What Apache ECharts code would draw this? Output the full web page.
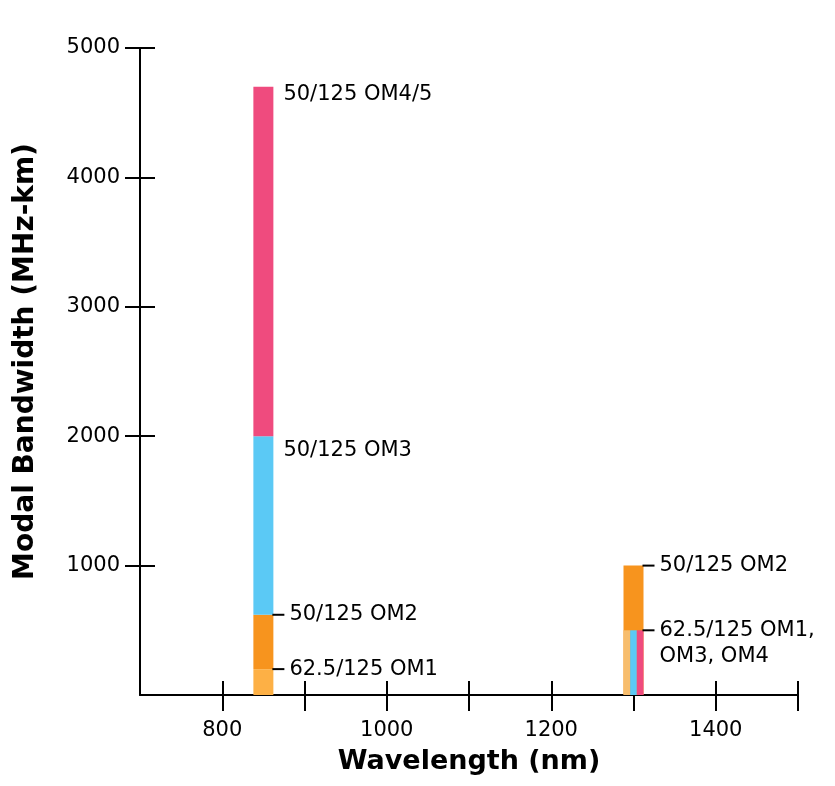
<!DOCTYPE html>
<html>
<head>
<meta charset="utf-8">
<script src="https://cdn.jsdelivr.net/npm/echarts@6/dist/echarts.min.js"></script>
<style>
  html, body { margin: 0; padding: 0; background: #fff; }
  #chart { width: 835px; height: 786px; }
</style>
</head>
<body>
<div id="chart"></div>
<script>
// modal bandwidth (MHz-km)
var wavelengths = [850, 1300];
var grades = ['OM1', 'OM2', 'OM3', 'OM4'];
var bw850 = [200, 620, 2000, 4700];   // stacked tops at 850 nm
var bw1300 = [500, 1000, 500, 500];   // OM1, OM2, OM3, OM4 at 1300 nm
var labels850 = ['62.5/125 OM1', '50/125 OM2', '50/125 OM3', '50/125 OM4/5'];
var labels1300 = ['62.5/125 OM1,\nOM3, OM4', '50/125 OM2'];
var xTicks = [800, 900, 1000, 1100, 1200, 1300, 1400, 1500];
var xTickLabels = [800, 1000, 1200, 1400];
var yTicks = [1000, 2000, 3000, 4000, 5000];
var yTickLabels = [1000, 2000, 3000, 4000, 5000];

var FONT = 'DejaVu Sans';
var BAR_W = 20;
var colors = {
  OM1: '#FDB045',
  OM1b: '#F7BD6D',
  OM2: '#F7941E',
  OM3: '#5BC9F5',
  OM4: '#EF4B7E'
};

// segments: [x, lo, hi, slot, slots], colour kept in parallel array
var segs = [], segColors = [];
var base = 0;
bw850.forEach(function (v, i) {
  segs.push([wavelengths[0], base, v, 0, 1]);
  segColors.push(colors[grades[i]]);
  base = v;
});
// 1300: OM2 full width behind, then OM1 / OM3 / OM4 side by side
segs.push([wavelengths[1], 0, bw1300[1], 0, 1]);
segColors.push(colors.OM2);
[0, 2, 3].forEach(function (gi, k) {
  segs.push([wavelengths[1], 0, bw1300[gi], k, 3]);
  segColors.push(gi === 0 ? colors.OM1b : colors[grades[gi]]);
});

// labels: [x, y], text / dash / pixel offset in parallel arrays
var labelPts = [], labelTxt = [], labelDash = [], labelDy = [];
[[0, true, 0], [1, true, 0], [2, false, 14], [3, false, 8]].forEach(function (c) {
  labelPts.push([wavelengths[0], bw850[c[0]]]);
  labelTxt.push(labels850[c[0]]);
  labelDash.push(c[1]);
  labelDy.push(c[2]);
});
labelPts.push([wavelengths[1], bw1300[0]]);
labelTxt.push(labels1300[0]); labelDash.push(true); labelDy.push(0);
labelPts.push([wavelengths[1], bw1300[1]]);
labelTxt.push(labels1300[1]); labelDash.push(true); labelDy.push(0);

var chart = echarts.init(document.getElementById('chart'));

function plain(v) { return String(v); }

// outer ticks + labels
function xAxisMain() {
  return {
    type: 'value', min: 700, max: 1500, interval: 100,
    position: 'bottom',
    axisLine: { show: true, onZero: false, lineStyle: { color: '#000', width: 2 } },
    axisTick: { show: true, length: 16, customValues: xTicks, lineStyle: { color: '#000', width: 2 } },
    axisLabel: {
      margin: 25, fontSize: 21, color: '#000', fontFamily: FONT,
      customValues: xTickLabels, formatter: plain
    },
    splitLine: { show: false },
    name: 'Wavelength (nm)',
    nameLocation: 'middle',
    nameGap: 53,
    nameTextStyle: { fontSize: 27, fontWeight: 'bold', color: '#000', fontFamily: FONT }
  };
}
function yAxisMain() {
  return {
    type: 'value', min: 0, max: 5000, interval: 1000,
    position: 'left',
    axisLine: { show: true, onZero: false, lineStyle: { color: '#000', width: 2 } },
    axisTick: { show: true, length: 15, customValues: yTicks, lineStyle: { color: '#000', width: 2 } },
    axisLabel: {
      margin: 20, fontSize: 21, color: '#000', fontFamily: FONT,
      customValues: yTickLabels, formatter: plain
    },
    splitLine: { show: false },
    name: 'Modal Bandwidth (MHz-km)',
    nameLocation: 'middle',
    nameGap: 100,
    nameTextStyle: { fontSize: 28, fontWeight: 'bold', color: '#000', fontFamily: FONT, padding: [0, 0, 0, 20] }
  };
}
// inner half of the crossing ticks
function xAxisInner() {
  return {
    type: 'value', min: 700, max: 1500, interval: 100, position: 'bottom',
    axisLine: { show: false, onZero: false },
    axisTick: { show: true, inside: true, length: 14, lineStyle: { color: '#000', width: 2 } },
    axisLabel: { show: false },
    splitLine: { show: false }
  };
}
function yAxisInner() {
  return {
    type: 'value', min: 0, max: 5000, interval: 1000, position: 'left',
    axisLine: { show: false, onZero: false },
    axisTick: { show: true, inside: true, length: 15, lineStyle: { color: '#000', width: 2 } },
    axisLabel: { show: false },
    splitLine: { show: false }
  };
}

chart.setOption({
  animation: false,
  backgroundColor: '#fff',
  grid: { left: 140, right: 37, top: 48, bottom: 91 },
  xAxis: [xAxisMain(), xAxisInner()],
  yAxis: [yAxisMain(), yAxisInner()],
  series: [
    {
      type: 'custom',
      xAxisIndex: 0, yAxisIndex: 0,
      clip: false,
      z: 2,
      data: segs,
      renderItem: function (params, api) {
        var x = api.value(0), lo = api.value(1), hi = api.value(2);
        var slot = api.value(3), slots = api.value(4);
        var p0 = api.coord([x, lo]), p1 = api.coord([x, hi]);
        var w = BAR_W / slots;
        return {
          type: 'rect',
          shape: { x: p0[0] - BAR_W / 2 + slot * w, y: p1[1], width: w, height: p0[1] - p1[1] },
          style: { fill: segColors[params.dataIndex] }
        };
      }
    },
    {
      type: 'custom',
      xAxisIndex: 0, yAxisIndex: 0,
      clip: false,
      z: 3,
      data: labelPts,
      renderItem: function (params, api) {
        var i = params.dataIndex;
        var p = api.coord([api.value(0), api.value(1)]);
        var right = p[0] + BAR_W / 2;
        var y = p[1] + labelDy[i];
        var kids = [];
        if (labelDash[i]) {
          kids.push({
            type: 'line',
            shape: { x1: right - 1, y1: p[1], x2: right + 11, y2: p[1] },
            style: { stroke: '#000', lineWidth: 2 }
          });
        }
        kids.push({
          type: 'text',
          style: {
            x: right + (labelDash[i] ? 16 : 10), y: y - 13,
            text: labelTxt[i],
            fill: '#000', fontSize: 21, fontFamily: FONT,
            lineHeight: 26, verticalAlign: 'top'
          }
        });
        return { type: 'group', children: kids };
      }
    }
  ]
});
</script>
</body>
</html>
